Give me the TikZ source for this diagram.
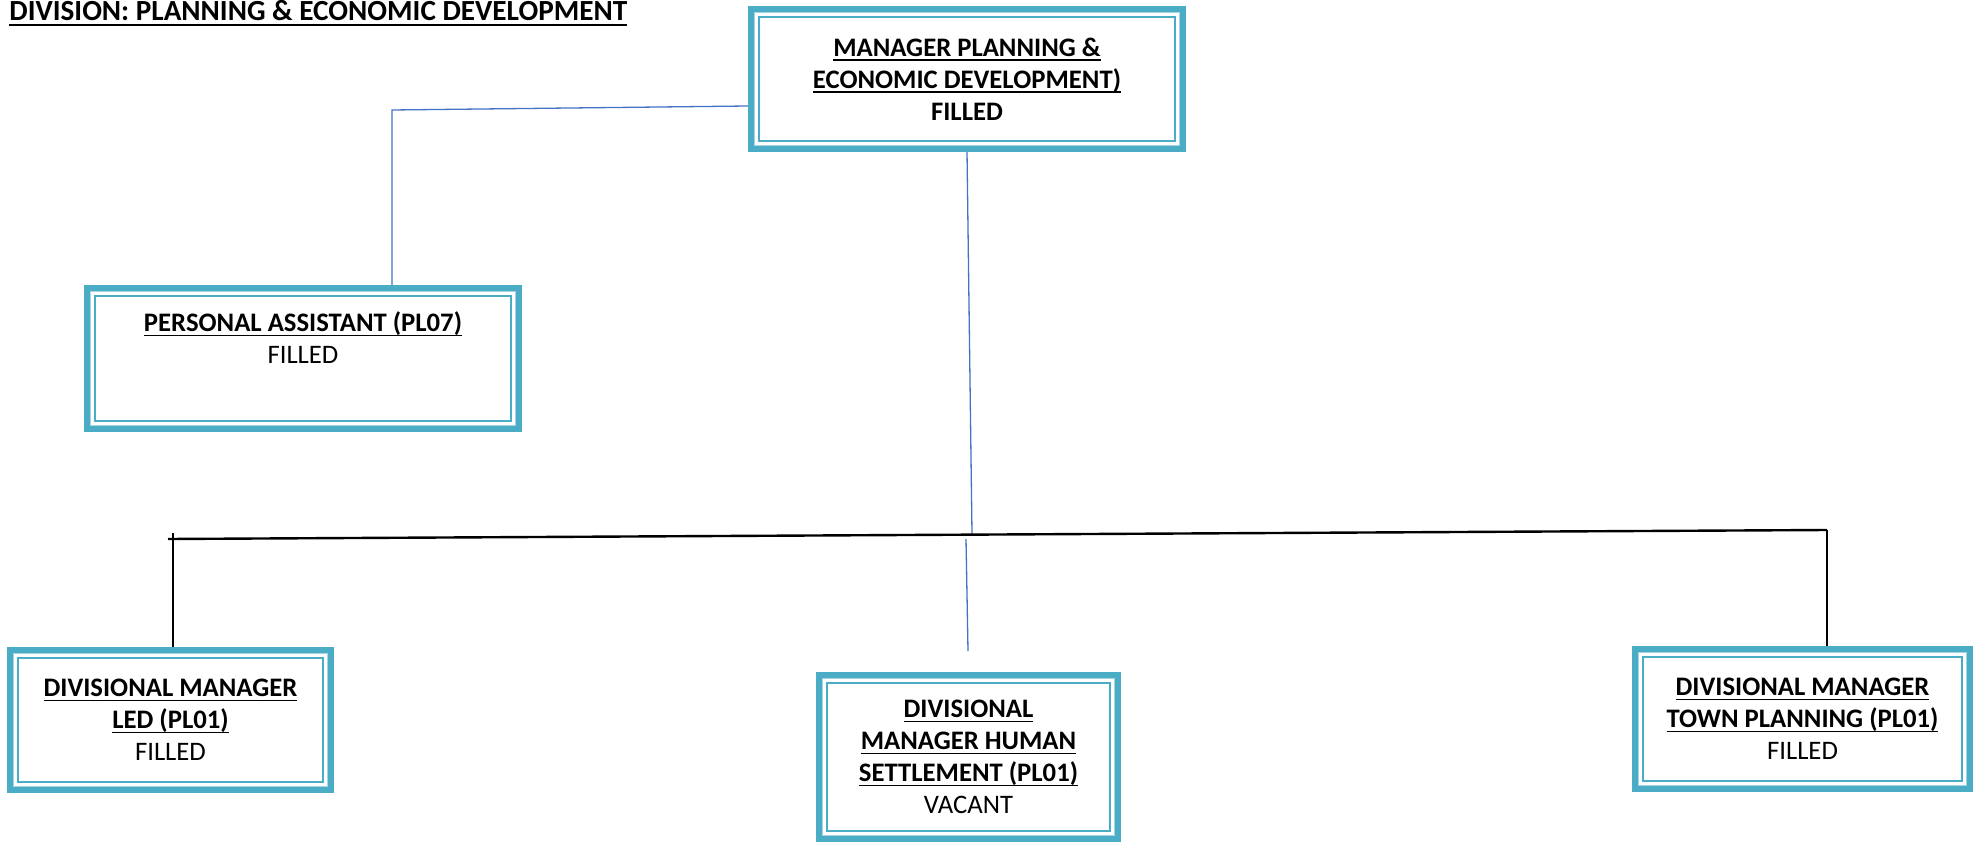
\documentclass[tikz,border=0pt]{standalone}
\usepackage{fontspec}
\setmainfont{Carlito}
\usetikzlibrary{backgrounds}
\definecolor{boxteal}{HTML}{4BACC6}
\definecolor{boxlight}{HTML}{A5D5E2}
\definecolor{linkblue}{HTML}{4472C4}
\newcommand{\ulin}[1]{\setbox0\hbox{#1}\rlap{\rule[-2.3pt]{\wd0}{0.8pt}}\box0}

\tikzset{
 post/.style={draw=boxteal, line width=3pt, inner sep=0pt, align=center,
   font=\fontsize{13.35}{16}\selectfont,
   path picture={
     \draw[boxlight, line width=0.7pt] ([shift={(1.8pt,1.8pt)}]path picture bounding box.south west) rectangle ([shift={(-1.8pt,-1.8pt)}]path picture bounding box.north east);
     \draw[boxteal, line width=0.8pt] ([shift={(3.95pt,3.95pt)}]path picture bounding box.south west) rectangle ([shift={(-3.95pt,-3.95pt)}]path picture bounding box.north east);
   }},
 bluelink/.style={draw=linkblue, line width=0.65pt},
 blacklink/.style={draw=black, line width=0.8pt},
}

\begin{document}
\begin{tikzpicture}[x=0.5pt, y=-0.5pt]
\useasboundingbox (0,0) rectangle (1979,844);

\node[anchor=base west, inner sep=0pt, font=\fontsize{14.6}{16}\selectfont\bfseries] (title) at (9,21) {\ulin{DIVISION: PLANNING \& ECONOMIC DEVELOPMENT}};

\node[post, minimum width=216pt, minimum height=70pt] (mgr) at (967,79)
 {\textbf{\ulin{MANAGER PLANNING \&}}\\\textbf{\ulin{ECONOMIC DEVELOPMENT)}}\\\textbf{FILLED}};
\node[post, minimum width=216pt, minimum height=70.5pt] (pa) at (303,358.5)
 {\textbf{\ulin{PERSONAL ASSISTANT (PL07)}}\\FILLED\\\strut};
\node[post, minimum width=160.5pt, minimum height=70pt] (led) at (170.5,720)
 {\textbf{\ulin{DIVISIONAL MANAGER}}\\\textbf{\ulin{LED (PL01)}}\\FILLED};
\node[post, minimum width=149.5pt, minimum height=82pt] (hs) at (968.5,757)
 {\textbf{\ulin{DIVISIONAL}}\\\textbf{\ulin{MANAGER HUMAN}}\\\textbf{\ulin{SETTLEMENT (PL01)}}\\VACANT};
\node[post, minimum width=167.5pt, minimum height=70pt] (tp) at (1802.5,719)
 {\textbf{\ulin{DIVISIONAL MANAGER}}\\\textbf{\ulin{TOWN PLANNING (PL01)}}\\FILLED};

\coordinate (paknee) at (392,110);
\coordinate (busmid) at (972,534);
\coordinate (busL) at (168,539);
\coordinate (busR) at (1827,530);
\coordinate (ledtop) at (173,533);
\coordinate (hsA) at (966,539);
\coordinate (hsB) at (968,651);

\begin{scope}[on background layer]
\draw[bluelink] ([yshift=-13.5pt]mgr.west) -- (paknee) -- (paknee |- pa.north);
\draw[bluelink] (mgr.south) -- (busmid);
\draw[blacklink, line width=1.2pt] (busL) -- (busR);
\foreach \c/\n in {ledtop/led, busR/tp}
\draw[blacklink] (\c) -- (\c |- \n.north);
\draw[bluelink] (hsA) -- (hsB);
\end{scope}

\end{tikzpicture}
\end{document}
